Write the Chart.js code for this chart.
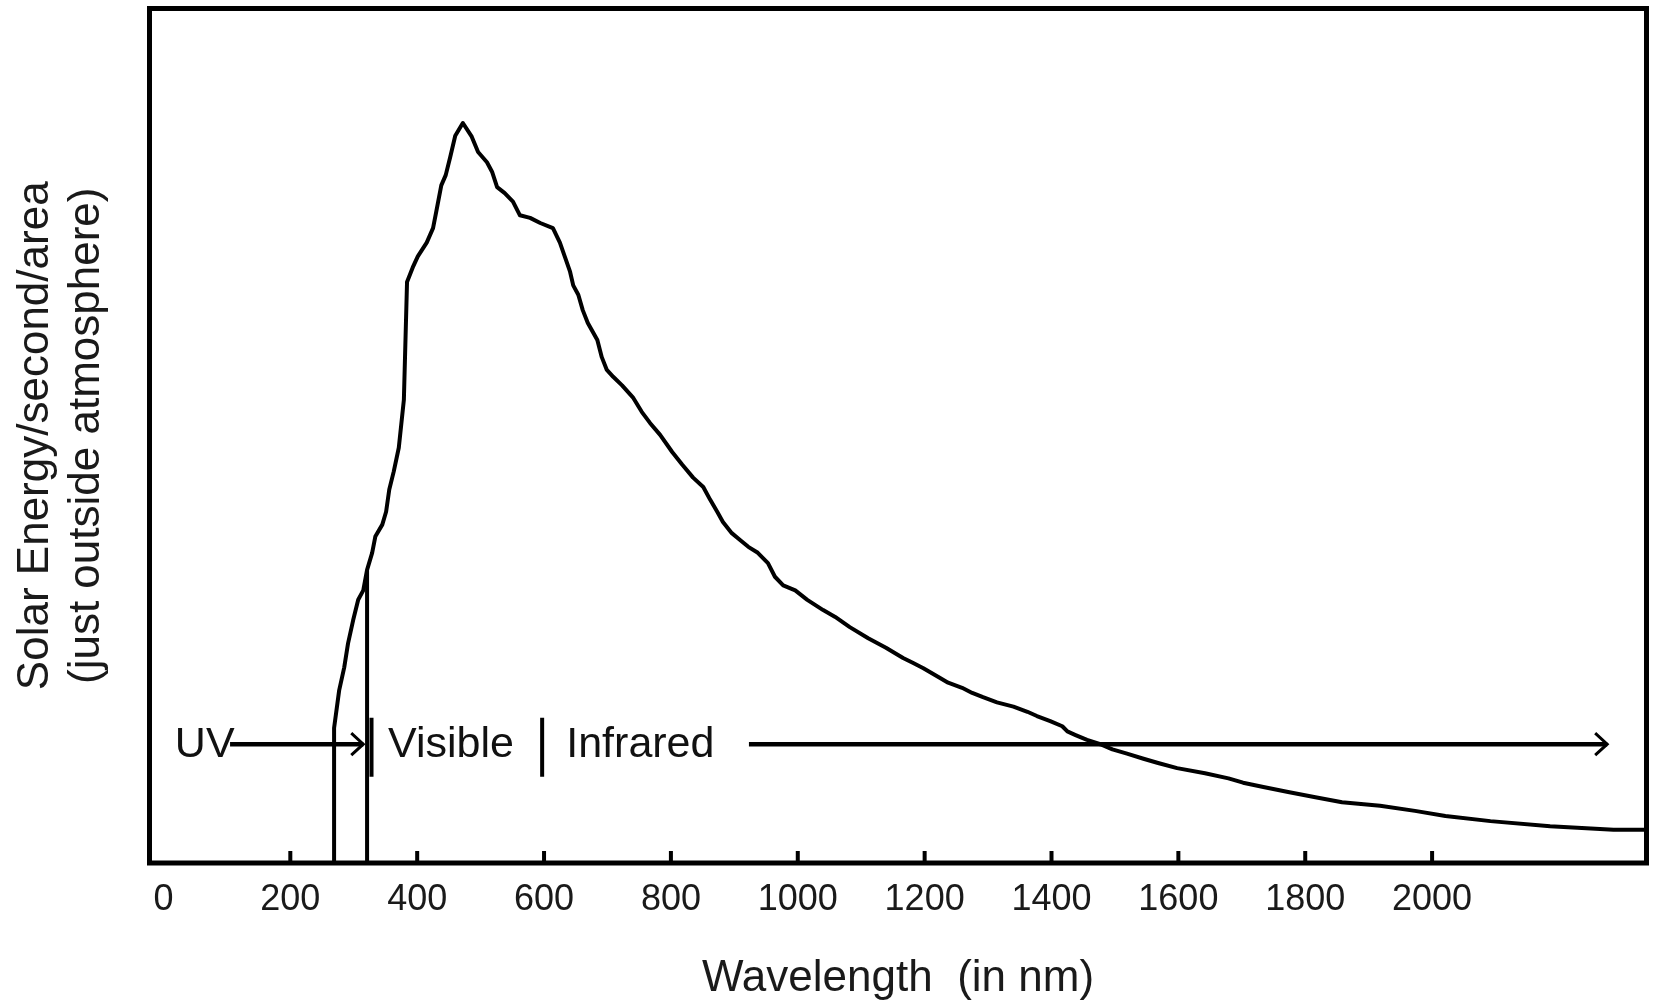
<!DOCTYPE html>
<html>
<head>
<meta charset="utf-8">
<script src="https://cdn.jsdelivr.net/npm/chart.js@4.4.1/dist/chart.umd.min.js"></script>
<style>
  html, body { margin: 0; padding: 0; background: #ffffff; }
  #wrap { width: 1654px; height: 1003px; position: relative; }
</style>
</head>
<body>
<div id="wrap"><canvas id="c"></canvas></div>
<script>
// ---- data ----
const wavelengths = [269, 269, 277, 285, 291, 299, 307, 315, 321, 329, 334, 345, 351, 356, 363, 371, 379, 384, 393, 401,
  415, 425, 430, 438, 445, 452, 460, 472, 486, 496, 510, 518, 526, 538, 551, 562, 578, 594, 614, 625,
  633, 641, 646, 654, 661, 669, 684, 691, 699, 709, 723, 740, 754, 767, 783, 802, 818, 835, 851, 862,
  873, 882, 896, 909, 922, 937, 953, 964, 977, 996, 1015, 1040, 1059, 1082, 1111, 1139, 1166, 1182, 1198, 1221,
  1237, 1259, 1275, 1292, 1314, 1340, 1362, 1377, 1398, 1417, 1425, 1437, 1456, 1477, 1496, 1519, 1545, 1568, 1598, 1642,
  1679, 1702, 1734, 1773, 1816, 1858, 1918, 1973, 2021, 2092, 2186, 2286, 2338];
const energy = [0, 15.8, 20.2, 22.9, 25.7, 28.4, 30.8, 31.9, 34.3, 36.3, 38.2, 39.6, 41.1, 43.7, 45.8, 48.6, 54.2, 68.0, 69.7, 71.0,
  72.6, 74.3, 76.2, 79.3, 80.5, 82.6, 85.1, 86.6, 85.0, 83.2, 82.0, 80.9, 79.1, 78.4, 77.4, 75.8, 75.5, 74.9, 74.3, 72.6,
  70.9, 69.2, 67.6, 66.5, 64.7, 63.2, 61.2, 59.2, 57.7, 56.9, 55.9, 54.5, 52.8, 51.5, 50.1, 48.1, 46.6, 45.1, 44.0, 42.5,
  41.1, 39.9, 38.6, 37.8, 37.0, 36.3, 35.1, 33.5, 32.5, 31.9, 30.8, 29.6, 28.8, 27.6, 26.3, 25.2, 24.0, 23.4, 22.8, 21.8,
  21.1, 20.5, 19.9, 19.4, 18.8, 18.3, 17.7, 17.2, 16.6, 16.0, 15.4, 15.0, 14.4, 13.9, 13.3, 12.8, 12.2, 11.7, 11.1, 10.5,
  9.9, 9.4, 8.9, 8.3, 7.7, 7.1, 6.7, 6.1, 5.5, 4.9, 4.3, 3.9, 3.9];

// UV / visible boundary line
const boundaryWavelength = [321, 321];
const boundaryEnergy = [0, 34.3];

// x-axis ticks
const tickValues = [0, 200, 400, 600, 800, 1000, 1200, 1400, 1600, 1800, 2000];
const tickLabels = ['0', '200', '400', '600', '800', '1000', '1200', '1400', '1600', '1800', '2000'];

// band annotations (wavelength of label start, level)
const bandNames = ['UV', 'Visible', 'Infrared'];
const bandLabelStart = [18, 354, 635];
const bandLevel = 13.9;
const uvArrow = [105, 315];
const irArrow = [923, 2276];
const separatorsAt = [328, 597];
const separatorSpan = [10.1, 17.0];

const xTitle = 'Wavelength  (in nm)';
const yTitle = ['Solar Energy/second/area', '(just outside atmosphere)'];

// ---- chart ----
const FONT = "'Liberation Sans', Arial, sans-serif";
const INK = '#000000';

const decorPlugin = {
  id: 'decor',
  afterDatasetsDraw(chart) {
    const {ctx, chartArea: a, scales: {x, y}} = chart;
    ctx.save();
    // inward tick marks
    ctx.strokeStyle = INK;
    ctx.lineWidth = 4;
    ctx.beginPath();
    tickValues.forEach(v => {
      if (v === 0) return;
      const px = x.getPixelForValue(v);
      ctx.moveTo(px, a.bottom);
      ctx.lineTo(px, a.bottom - 12);
    });
    ctx.stroke();

    // band labels
    const yl = y.getPixelForValue(bandLevel);
    ctx.fillStyle = '#111';
    ctx.font = '43px ' + FONT;
    ctx.textBaseline = 'middle';
    ctx.textAlign = 'left';
    bandNames.forEach((n, i) => {
      ctx.fillText(n, x.getPixelForValue(bandLabelStart[i]), yl + 1);
    });

    // arrows
    const arrow = (from, to) => {
      const x0 = x.getPixelForValue(from), x1 = x.getPixelForValue(to);
      ctx.lineWidth = 4.5;
      ctx.beginPath();
      ctx.moveTo(x0, yl);
      ctx.lineTo(x1, yl);
      ctx.stroke();
      ctx.lineWidth = 3;
      ctx.beginPath();
      ctx.moveTo(x1 - 12, yl - 11);
      ctx.lineTo(x1, yl);
      ctx.lineTo(x1 - 12, yl + 11);
      ctx.stroke();
    };
    arrow(uvArrow[0], uvArrow[1]);
    arrow(irArrow[0], irArrow[1]);

    // separators
    ctx.lineWidth = 4;
    ctx.beginPath();
    separatorsAt.forEach(w => {
      const px = x.getPixelForValue(w);
      ctx.moveTo(px, y.getPixelForValue(separatorSpan[1]));
      ctx.lineTo(px, y.getPixelForValue(separatorSpan[0]));
    });
    ctx.stroke();

    // frame
    ctx.lineWidth = 5;
    ctx.strokeRect(a.left, a.top, a.right - a.left, a.bottom - a.top);
    ctx.restore();
  }
};

new Chart(document.getElementById('c'), {
  type: 'line',
  data: {
    datasets: [
      {
        data: wavelengths.map((w, i) => ({x: w, y: energy[i]})),
        borderColor: INK,
        borderWidth: 4,
        pointRadius: 0,
        tension: 0,
        fill: false,
        borderJoinStyle: 'round'
      },
      {
        data: boundaryWavelength.map((w, i) => ({x: w, y: boundaryEnergy[i]})),
        borderColor: INK,
        borderWidth: 4,
        pointRadius: 0,
        fill: false
      }
    ]
  },
  options: {
    responsive: true,
    maintainAspectRatio: false,
    devicePixelRatio: 1,
    animation: false,
    layout: { padding: { top: 8.5, right: 7.5, left: 0, bottom: 0 } },
    plugins: { legend: { display: false }, tooltip: { enabled: false } },
    scales: {
      x: {
        type: 'linear',
        min: -22,
        max: 2338,
        afterBuildTicks(s) { s.ticks = tickValues.map(v => ({value: v})); },
        afterFit(s) { s.height = 140; },
        grid: { display: false, drawTicks: false },
        border: { display: false },
        ticks: {
          padding: 15,
          color: '#1a1a1a',
          font: { family: FONT, size: 36 },
          maxRotation: 0,
          autoSkip: false,
          callback: (v) => tickLabels[tickValues.indexOf(v)]
        },
        title: {
          display: true,
          text: xTitle,
          color: '#1a1a1a',
          font: { family: FONT, size: 44, lineHeight: 1.0 },
          padding: { top: 0, bottom: 2 }
        }
      },
      y: {
        type: 'linear',
        min: 0,
        max: 100,
        afterFit(s) { s.width = 149.5; },
        grid: { display: false, drawTicks: false },
        border: { display: false },
        ticks: { display: false },
        title: {
          display: true,
          text: yTitle,
          color: '#1a1a1a',
          font: { family: FONT, size: 44, lineHeight: 1.16 },
          padding: { top: 10, bottom: 0 }
        }
      }
    }
  },
  plugins: [decorPlugin]
});
</script>
</body>
</html>
